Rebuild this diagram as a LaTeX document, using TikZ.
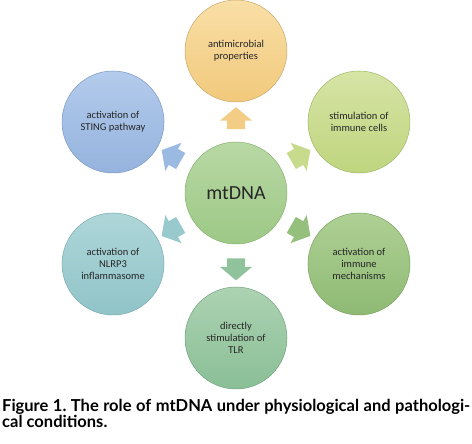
\documentclass[tikz,border=0pt]{standalone}
\usepackage{fontspec}
\setmainfont{Carlito}
\newfontfamily\capfont{Lato}
\usetikzlibrary{calc, positioning, shapes.arrows}
\definecolor{inkDark}{HTML}{262626}
\definecolor{hubTop}{HTML}{B8D8A4}
\definecolor{hubBot}{HTML}{9DC886}
\definecolor{hubLine}{HTML}{86B36F}
\definecolor{amberTop}{HTML}{F9DFA6}
\definecolor{amberBot}{HTML}{F1C97C}
\definecolor{amberLine}{HTML}{C8A86A}
\definecolor{amberArw}{HTML}{F3CC86}
\definecolor{limeTop}{HTML}{D6E4A5}
\definecolor{limeBot}{HTML}{BFD57E}
\definecolor{limeLine}{HTML}{9FB566}
\definecolor{limeArw}{HTML}{C8DA8C}
\definecolor{leafTop}{HTML}{AFD094}
\definecolor{leafBot}{HTML}{8EBA74}
\definecolor{leafLine}{HTML}{78A05F}
\definecolor{leafArw}{HTML}{95BF7C}
\definecolor{seaTop}{HTML}{ACD2B2}
\definecolor{seaBot}{HTML}{8ABF96}
\definecolor{seaLine}{HTML}{74A47F}
\definecolor{seaArw}{HTML}{90C29B}
\definecolor{tealTop}{HTML}{AED6D9}
\definecolor{tealBot}{HTML}{90C4C8}
\definecolor{tealLine}{HTML}{78AAAE}
\definecolor{tealArw}{HTML}{97C9CD}
\definecolor{skyTop}{HTML}{B3CBEC}
\definecolor{skyBot}{HTML}{95B3DD}
\definecolor{skyLine}{HTML}{7A98C2}
\definecolor{skyArw}{HTML}{9BBAE2}
\tikzset{
  ball/.style    = {circle, minimum size=102pt, inner sep=0pt, align=center,
                    text=inkDark, line width=0.5pt},
  leaf/.style    = {ball, font=\fontsize{10.5}{12}\selectfont},
  hub/.style     = {ball, font=\fontsize{20}{24}\selectfont,
                    top color=hubTop, bottom color=hubBot, draw=hubLine},
  tone/.style n args = {3}{top color=#1, bottom color=#2, draw=#3},
  blk/.style     = {single arrow, minimum height=22pt,
                    single arrow head extend=7pt, single arrow tip angle=100,
                    inner sep=0pt, draw=none},
  capline/.style = {font=\frenchspacing\capfont\bfseries\fontsize{16.5}{18}\selectfont,
                    inner sep=0pt, text=black}
}
\begin{document}
\begin{tikzpicture}[x=1pt, y=1pt]
  \useasboundingbox (0,0) rectangle (472,444);
  \node[hub] (mt) at (236,251) {mtDNA};
  \node[leaf, tone={amberTop}{amberBot}{amberLine}] (anti) at ($(mt)+(90:142)$) {antimicrobial\\properties};
  \node[leaf, tone={limeTop}{limeBot}{limeLine}] (stim) at ($(mt)+(30:142)$) {stimulation of\\immune cells};
  \node[leaf, tone={leafTop}{leafBot}{leafLine}] (mech) at ($(mt)+(-30:142)$) {activation of\\immune\\mechanisms};
  \node[leaf, tone={seaTop}{seaBot}{seaLine}] (tlr) at ($(mt)+(-90:145)$) {directly\\stimulation of\\TLR};
  \node[leaf, tone={tealTop}{tealBot}{tealLine}] (nlrp) at ($(mt)+(210:142)$) {activation of\\NLRP3\\inflammasome};
  \node[leaf, tone={skyTop}{skyBot}{skyLine}] (sting) at ($(mt)+(150:142)$) {activation of\\STING pathway};
  \foreach \n/\a/\c in {anti/90/amberArw, stim/30/limeArw, mech/-30/leafArw,
                        tlr/-90/seaArw, nlrp/210/tealArw, sting/150/skyArw}
    \node[blk, fill=\c, rotate=\a] (arw-\n) at ($(mt)!0.5!(\n)$) {\rule{0pt}{18pt}};
  % caption
  \node[capline, anchor=base west] (cap1) at (2,32)
    {\makebox[468pt][s]{Figure 1. The role of mtDNA under physiological and pathologi-}};
  \node[capline, anchor=base west] (cap2) at (2,16) {cal conditions.};
\end{tikzpicture}
\end{document}
